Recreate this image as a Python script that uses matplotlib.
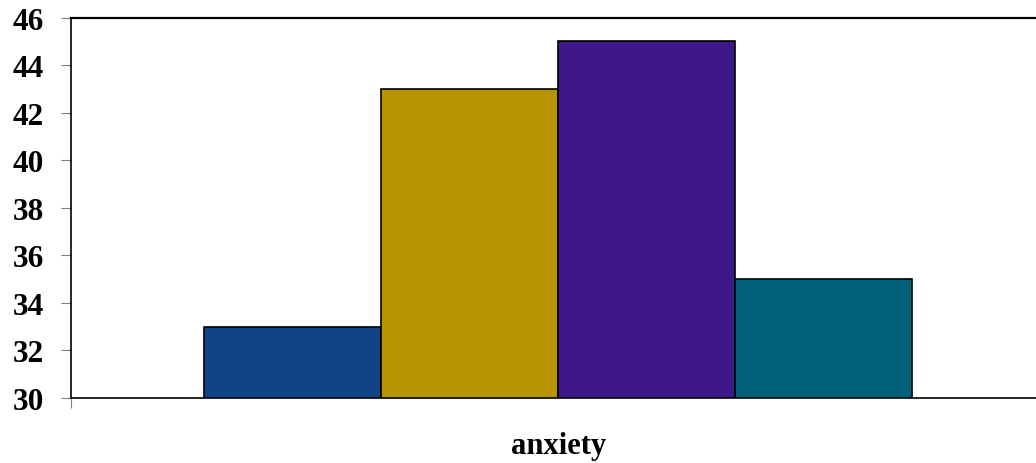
import numpy as np
import matplotlib.pyplot as plt
import matplotlib.transforms as mtransforms

plt.rcParams["font.family"] = ["Liberation Serif", "DejaVu Serif"]
plt.rcParams["font.weight"] = "bold"

# anxiety scores for the four groups
grupos = ["g1", "g2", "g3", "g4"]
valores = [33, 43, 45, 35]
cores = ["#104387", "#B89400", "#3E188A", "#01607A"]
rotulo_x = "anxiety"
yticks = list(range(30, 47, 2))

fig = plt.figure(figsize=(10.36, 4.64), dpi=100)
ax = fig.add_axes([0.069, 0.140, 0.931, 0.820])

pos = np.arange(len(grupos))
ax.bar(pos, np.array(valores) - 30, bottom=30, width=1.0, color=cores,
       edgecolor="black", linewidth=1.2, align="center", zorder=3)

x_min = -1.249
ax.set_xlim(x_min, 4.20)
ax.set_ylim(30, 46)
ax.set_yticks(yticks)
ax.set_yticklabels([str(t) for t in yticks], fontsize=22.5, fontweight="bold")
ax.tick_params(axis="y", direction="out", length=7, width=0.8, color="#808080", pad=13)

# single category-axis tick at the left end
ax.set_xticks([x_min])
ax.set_xticklabels([""])
ax.tick_params(axis="x", direction="out", length=7, width=0.8, color="#808080")

for lado in ["left", "bottom", "top"]:
    ax.spines[lado].set_color("black")
    ax.spines[lado].set_linewidth(1.2)
ax.spines["top"].set_linewidth(1.6)
ax.spines["right"].set_visible(False)

trans = mtransforms.blended_transform_factory(ax.transData, ax.transAxes)
ax.text(pos.mean(), -0.125, rotulo_x, transform=trans, ha="center", va="center",
        fontsize=22, fontweight="bold")

fig.savefig("out.png", dpi=100)
